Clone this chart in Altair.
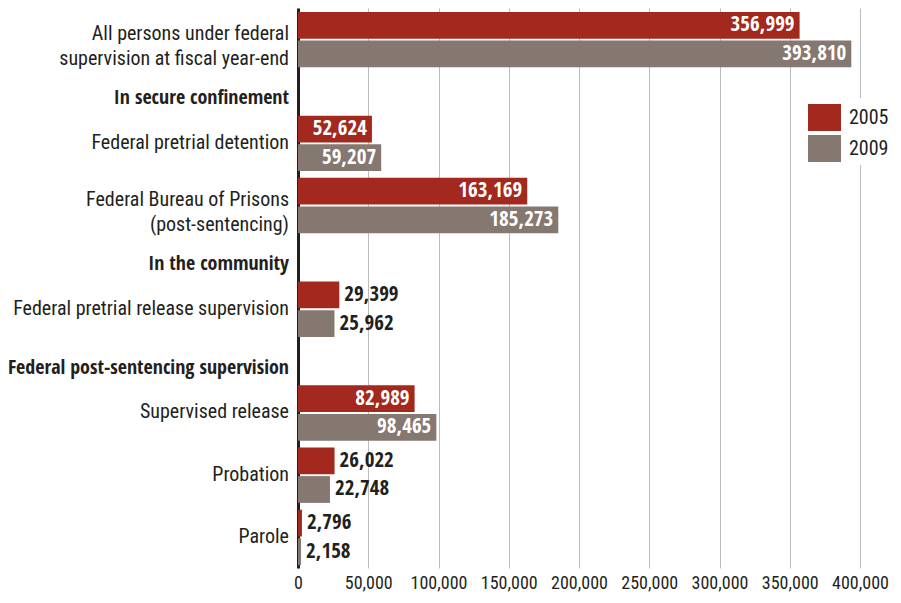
import altair as alt
import pandas as pd

# ---- data ----
row_labels = [
    "All persons under federal\nsupervision at fiscal year-end",
    "In secure confinement",
    "Federal pretrial detention",
    "Federal Bureau of Prisons\n(post-sentencing)",
    "In the community",
    "Federal pretrial release supervision",
    "Federal post-sentencing supervision",
    "Supervised release",
    "Probation",
    "Parole",
]
is_header = [False, True, False, False, True, False, True, False, False, False]
values_2005 = [356999, None, 52624, 163169, None, 29399, None, 82989, 26022, 2796]
values_2009 = [393810, None, 59207, 185273, None, 25962, None, 98465, 22748, 2158]
years = ["2005", "2009"]
x_ticks = [0, 50000, 100000, 150000, 200000, 250000, 300000, 350000, 400000]

# ---- styling ----
FONT_R = "Roboto Condensed, Open Sans Condensed, sans-serif"
FONT_B = "Open Sans Condensed, Roboto Condensed, sans-serif"
TXT = "#231f20"
COLORS = ["#a3281d", "#857870"]

# ---- build tables (row layout: item rows 3 units, header rows 2 units) ----
rows, bars = [], []
pos = 0.0
for lab, hdr, a, b in zip(row_labels, is_header, values_2005, values_2009):
    w = 2.0 if hdr else 3.0
    rows.append({"label": lab, "header": hdr, "multi": "\n" in lab,
                 "yc": pos + (1.36 if hdr else 1.5)})
    if not hdr:
        for yr, v, off in ((years[0], a, 0.19), (years[1], b, 1.57)):
            y0 = pos + off
            y1 = y0 + 1.29
            bars.append({"year": yr, "value": v, "y0": y0, "y1": y1,
                         "ym": (y0 + y1) / 2, "txt": f"{v:,}",
                         "inside": v > 40000})
    pos += w
total = pos

rows_df = pd.DataFrame(rows)
bars_df = pd.DataFrame(bars)

xscale = alt.Scale(domain=[0, 400000], nice=False, zero=True)
yscale = alt.Scale(domain=[0, total], reverse=True, nice=False, zero=False)

xaxis = alt.Axis(values=x_ticks, labelExpr="format(datum.value, ',')",
                 title=None, ticks=False, domain=False, grid=True,
                 gridColor="#bcbcbc", gridWidth=1, labelFont=FONT_R,
                 labelFontSize=18, labelColor=TXT, labelPadding=6,
                 labelFlush=False)
yaxis = alt.Axis(labels=False, ticks=False, grid=False, title=None,
                 domainColor=TXT, domainWidth=3)

bar_layer = alt.Chart(bars_df).mark_bar(cornerRadius=0).encode(
    x=alt.X("value:Q", scale=xscale, axis=xaxis),
    x2=alt.datum(0),
    y=alt.Y("y0:Q", scale=yscale, axis=yaxis),
    y2="y1:Q",
    color=alt.Color("year:N",
                    scale=alt.Scale(domain=years, range=COLORS),
                    legend=alt.Legend(
                        title=None, orient="none", legendX=507, legendY=90,
                        symbolType="M-1,-0.818H1V0.818H-1Z", symbolSize=1089,
                        symbolStrokeWidth=0, symbolOpacity=1,
                        labelFont=FONT_R, labelFontSize=20, labelColor=TXT,
                        labelOffset=8, rowPadding=1, fillColor="white",
                        padding=3)),
)

inside_txt = alt.Chart(bars_df).transform_filter("datum.inside").mark_text(
    align="right", baseline="middle", dx=-5, font=FONT_B, fontSize=21,
    fontWeight="bold", color="white"
).encode(x=alt.X("value:Q", scale=xscale),
         y=alt.Y("ym:Q", scale=yscale), text="txt:N")

outside_txt = alt.Chart(bars_df).transform_filter("!datum.inside").mark_text(
    align="left", baseline="middle", dx=5, font=FONT_B, fontSize=21,
    fontWeight="bold", color=TXT
).encode(x=alt.X("value:Q", scale=xscale),
         y=alt.Y("ym:Q", scale=yscale), text="txt:N")

single_labels = alt.Chart(rows_df).transform_filter(
    "!datum.header && !datum.multi").mark_text(
    align="right", baseline="middle", dx=-9, font=FONT_R, fontSize=20,
    color=TXT
).encode(x=alt.datum(0, scale=xscale),
         y=alt.Y("yc:Q", scale=yscale), text="label:N")

multi_labels = alt.Chart(rows_df).transform_filter(
    "!datum.header && datum.multi").mark_text(
    align="right", baseline="middle", dx=-9, dy=-5, font=FONT_R, fontSize=20,
    color=TXT, lineBreak="\n", lineHeight=25
).encode(x=alt.datum(0, scale=xscale),
         y=alt.Y("yc:Q", scale=yscale), text="label:N")

header_labels = alt.Chart(rows_df).transform_filter("datum.header").mark_text(
    align="right", baseline="middle", dx=-9, font=FONT_B, fontSize=20,
    fontWeight="bold", color=TXT
).encode(x=alt.datum(0, scale=xscale),
         y=alt.Y("yc:Q", scale=yscale), text="label:N")

chart = alt.layer(bar_layer, inside_txt, outside_txt, single_labels,
                  multi_labels, header_labels).properties(
    width=562, height=560, autosize="none",
    padding={"left": 290, "top": 0, "right": 31, "bottom": 26},
    background="white",
).configure_view(stroke=None)

chart.save("out.html", embed_options={"renderer": "svg", "actions": False})
